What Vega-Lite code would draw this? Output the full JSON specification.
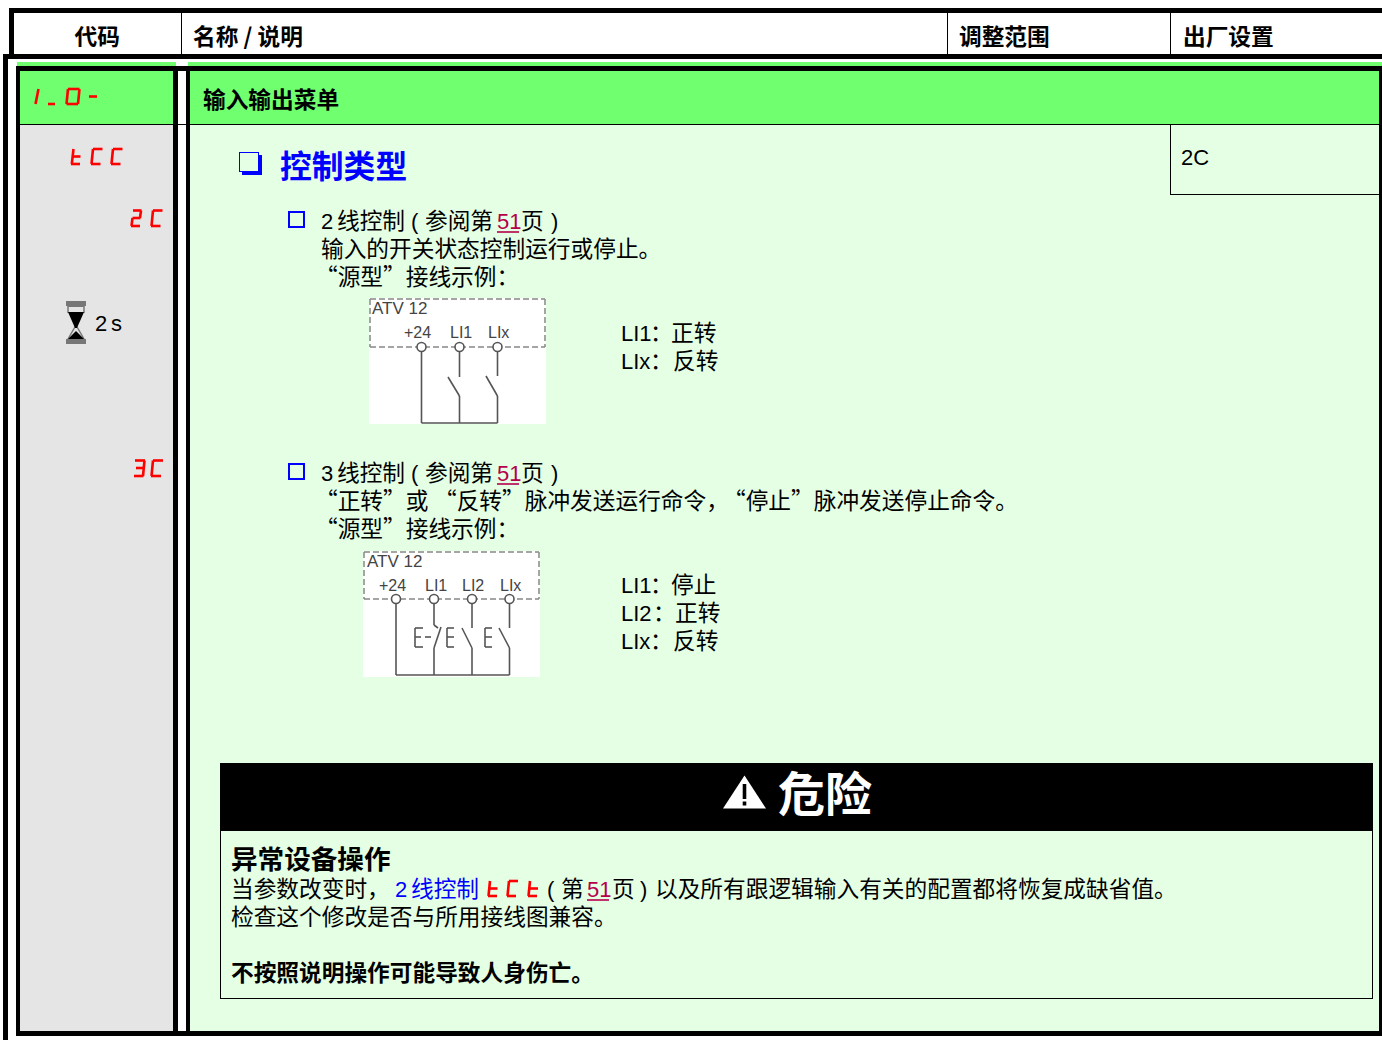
{"$schema":"https://vega.github.io/schema/vega-lite/v6.json","width":1382,"height":1040,"autosize":{"type":"fit","contains":"padding"},"padding":0,"background":"white","view":{"stroke":null},
"config":{"text":{"font":"Noto Sans CJK SC","align":"left","baseline":"middle"}},
"encoding":{"x":{"field":"x","type":"quantitative","scale":{"domain":[0,1382],"nice":false,"zero":false},"axis":null},"y":{"field":"y","type":"quantitative","scale":{"domain":[1040,0],"nice":false,"zero":false},"axis":null}},
"layer":[
{"mark":{"type":"rect"},"data":{"values":[
{"x":9,"x2":1382,"y":8,"y2":13,"k":"border"},{"x":9,"x2":14,"y":8,"y2":59,"k":"border"},{"x":3,"x2":1382,"y":54,"y2":59,"k":"border"},{"x":3,"x2":8,"y":54,"y2":1040,"k":"border"},
{"x":181,"x2":182,"y":13,"y2":54,"k":"border"},{"x":947,"x2":948,"y":13,"y2":54,"k":"border"},{"x":1170,"x2":1171,"y":13,"y2":54,"k":"border"},
{"x":17,"x2":176,"y":62,"y2":66,"k":"header"},{"x":188,"x2":1382,"y":62,"y2":66,"k":"header"},
{"x":20,"x2":173,"y":71,"y2":124,"k":"header"},{"x":190,"x2":1379,"y":71,"y2":124,"k":"header"},
{"x":20,"x2":173,"y":125,"y2":1031,"k":"code"},{"x":190,"x2":1379,"y":125,"y2":1031,"k":"pale"},
{"x":16,"x2":1382,"y":66,"y2":71,"k":"border"},{"x":16,"x2":20,"y":66,"y2":1036,"k":"border"},{"x":173,"x2":178,"y":71,"y2":1031,"k":"border"},{"x":186,"x2":190,"y":71,"y2":1031,"k":"border"},{"x":1379,"x2":1382,"y":66,"y2":1036,"k":"border"},{"x":16,"x2":1382,"y":1031,"y2":1036,"k":"border"},
{"x":20,"x2":1379,"y":124,"y2":125,"k":"border"},{"x":1170,"x2":1171,"y":125,"y2":195,"k":"border"},{"x":1170,"x2":1379,"y":194,"y2":195,"k":"border"},
{"x":220,"x2":1373,"y":763,"y2":831,"k":"border"},{"x":220,"x2":221,"y":831,"y2":999,"k":"border"},{"x":220,"x2":1373,"y":998,"y2":999,"k":"border"},{"x":1372,"x2":1373,"y":831,"y2":999,"k":"border"},
{"x":242,"x2":262,"y":155,"y2":175,"k":"accent"},{"x":239,"x2":259,"y":152,"y2":172,"k":"accent"},{"x":240,"x2":258,"y":153,"y2":171,"k":"pale"},
{"x":288,"x2":305,"y":211,"y2":228,"k":"accent"},{"x":290,"x2":303,"y":213,"y2":226,"k":"pale"},
{"x":288,"x2":305,"y":463,"y2":480,"k":"accent"},{"x":290,"x2":303,"y":465,"y2":478,"k":"pale"},
{"x":369,"x2":546,"y":298,"y2":424,"k":"paper"},{"x":363,"x2":540,"y":551,"y2":677,"k":"paper"},
{"x":66,"x2":86,"y":301,"y2":306,"k":"sand"},{"x":68,"x2":84,"y":306,"y2":307,"k":"sand"},{"x":66,"x2":86,"y":339,"y2":344,"k":"sand"}
]},"encoding":{"x2":{"field":"x2"},"y2":{"field":"y2"},"color":{"field":"k","type":"nominal","legend":null,"scale":{"domain":["border","header","code","pale","accent","paper","sand"],"range":["#000000","#6fff6f","#e5e5e5","#e5ffe5","#0000ff","#ffffff","#777777"]}}}},
{"mark":{"type":"rule","stroke":"#555555","strokeWidth":1.6},"data":{"values":[
{"x":421.5,"y":351,"x2":421.5,"y2":423},{"x":459.5,"y":351,"x2":459.5,"y2":377},{"x":497.5,"y":351,"x2":497.5,"y2":376},{"x":448,"y":377,"x2":459.5,"y2":396},{"x":459.5,"y":396,"x2":459.5,"y2":423},{"x":486,"y":376,"x2":497.5,"y2":396},{"x":497.5,"y":396,"x2":497.5,"y2":423},{"x":421.5,"y":423,"x2":497.5,"y2":423},
{"x":396,"y":603,"x2":396,"y2":675},{"x":434,"y":603,"x2":434,"y2":625},{"x":434,"y":625,"x2":438,"y2":628},{"x":441,"y":627,"x2":434,"y2":648},{"x":434,"y":648,"x2":434,"y2":675},{"x":472,"y":603,"x2":472,"y2":628},{"x":462,"y":628,"x2":472,"y2":648},{"x":472,"y":648,"x2":472,"y2":675},{"x":509.5,"y":603,"x2":509.5,"y2":628},{"x":499,"y":628,"x2":509.5,"y2":648},{"x":509.5,"y":648,"x2":509.5,"y2":675},{"x":396,"y":675,"x2":509.5,"y2":675},
{"x":415,"y":628,"x2":415,"y2":647},{"x":415,"y":628,"x2":423,"y2":628},{"x":415,"y":647,"x2":423,"y2":647},{"x":415,"y":637,"x2":421,"y2":637},{"x":425,"y":637,"x2":431,"y2":637},
{"x":447,"y":628,"x2":447,"y2":647},{"x":447,"y":628,"x2":454,"y2":628},{"x":447,"y":647,"x2":454,"y2":647},{"x":447,"y":637,"x2":454,"y2":637},
{"x":485,"y":628,"x2":485,"y2":647},{"x":485,"y":628,"x2":492,"y2":628},{"x":485,"y":647,"x2":492,"y2":647},{"x":485,"y":637,"x2":492,"y2":637}
]},"encoding":{"x2":{"field":"x2"},"y2":{"field":"y2"}}},
{"mark":{"type":"rule","stroke":"#888888","strokeWidth":1.5,"strokeDash":[6,3]},"data":{"values":[
{"x":370,"y":299,"x2":545,"y2":299},{"x":370,"y":347,"x2":545,"y2":347},{"x":370,"y":299,"x2":370,"y2":347},{"x":545,"y":299,"x2":545,"y2":347},
{"x":364,"y":552,"x2":539,"y2":552},{"x":364,"y":599,"x2":539,"y2":599},{"x":364,"y":552,"x2":364,"y2":599},{"x":539,"y":552,"x2":539,"y2":599}
]},"encoding":{"x2":{"field":"x2"},"y2":{"field":"y2"}}},
{"mark":{"type":"point","shape":"circle","filled":true,"fill":"#ffffff","stroke":"#555555","strokeWidth":1.6,"size":81,"opacity":1},"data":{"values":[{"x":421.5,"y":347},{"x":459.5,"y":347},{"x":497.5,"y":347},{"x":396,"y":599},{"x":434,"y":599},{"x":472,"y":599},{"x":509.5,"y":599}]}},
{"mark":{"type":"rule","stroke":"#ff0000","strokeWidth":2.6},"data":{"values":[
{"x":38.5,"y":89,"x2":35.5,"y2":104},{"x":48,"y":104,"x2":55,"y2":104},
{"x":68,"y":89,"x2":79.5,"y2":89},{"x":68,"y":89,"x2":66.5,"y2":104},{"x":79.5,"y":89,"x2":78,"y2":104},{"x":66.5,"y":104,"x2":78,"y2":104},{"x":89,"y":96.5,"x2":97,"y2":96.5},
{"x":73.5,"y":149,"x2":71.8,"y2":164},{"x":72.5,"y":156.5,"x2":80.5,"y2":156.5},{"x":71,"y":164,"x2":80,"y2":164},
{"x":93,"y":149,"x2":102.5,"y2":149},{"x":93,"y":149,"x2":91.5,"y2":164},{"x":91,"y":164,"x2":100.5,"y2":164},
{"x":113,"y":149,"x2":122.5,"y2":149},{"x":113,"y":149,"x2":111.5,"y2":164},{"x":111,"y":164,"x2":120.5,"y2":164},
{"x":133,"y":210.5,"x2":141.5,"y2":210.5},{"x":141,"y":210.5,"x2":140,"y2":218},{"x":132.5,"y":218,"x2":140.5,"y2":218},{"x":132.5,"y":218,"x2":131.5,"y2":226},{"x":131,"y":226,"x2":140,"y2":226},
{"x":153,"y":210.5,"x2":162.5,"y2":210.5},{"x":153,"y":210.5,"x2":151.5,"y2":226},{"x":151,"y":226,"x2":160.5,"y2":226},
{"x":135,"y":460.5,"x2":145,"y2":460.5},{"x":144.5,"y":460.5,"x2":143,"y2":476},{"x":136,"y":468,"x2":144,"y2":468},{"x":134,"y":476,"x2":143.5,"y2":476},
{"x":153,"y":460.5,"x2":163,"y2":460.5},{"x":153,"y":460.5,"x2":151.5,"y2":476},{"x":151,"y":476,"x2":161,"y2":476},
{"x":490,"y":881,"x2":488.5,"y2":896},{"x":489,"y":888.5,"x2":497.5,"y2":888.5},{"x":488,"y":896,"x2":497,"y2":896},
{"x":509,"y":881,"x2":518,"y2":881},{"x":509,"y":881,"x2":507.5,"y2":896},{"x":507,"y":896,"x2":516,"y2":896},
{"x":530,"y":881,"x2":528.5,"y2":896},{"x":529,"y":888.5,"x2":538,"y2":888.5},{"x":528,"y":896,"x2":537,"y2":896}
]},"encoding":{"x2":{"field":"x2"},"y2":{"field":"y2"}}},
{"mark":{"type":"rule","stroke":"#b5004c","strokeWidth":1.6},"data":{"values":[{"x":497,"y":232,"x2":519,"y2":232},{"x":497,"y":484,"x2":519,"y2":484},{"x":587,"y":900,"x2":609,"y2":900}]},"encoding":{"x2":{"field":"x2"},"y2":{"field":"y2"}}},
{"mark":{"type":"rule","stroke":"#777777","strokeWidth":1.5},"data":{"values":[{"x":68,"y":306,"x2":68,"y2":313},{"x":84,"y":306,"x2":84,"y2":313},{"x":75.5,"y":326,"x2":68,"y2":339},{"x":76.5,"y":326,"x2":84,"y2":339}]},"encoding":{"x2":{"field":"x2"},"y2":{"field":"y2"}}},
{"mark":{"type":"point","shape":"M-1,-1L1,-1L0.12,1L-0.12,1Z","filled":true,"color":"#000000","size":256,"opacity":1},"data":{"values":[{"x":76,"y":320}]}},
{"mark":{"type":"point","shape":"M-1,1L1,1L0,0Z","filled":true,"color":"#000000","size":256,"opacity":1},"data":{"values":[{"x":76,"y":331}]}},
{"mark":{"type":"point","shape":"M0,-0.77L1,0.77L-1,0.77Z","filled":true,"color":"#ffffff","size":1849,"opacity":1},"data":{"values":[{"x":744.5,"y":792}]}},
{"mark":{"type":"rule","stroke":"#000000","strokeWidth":3.6},"data":{"values":[{"x":744.5,"y":784,"x2":744.5,"y2":799},{"x":744.5,"y":801.5,"x2":744.5,"y2":805.5}]},"encoding":{"x2":{"field":"x2"},"y2":{"field":"y2"}}},
{"mark":{"type":"text","fontSize":22.7,"fontWeight":700,"color":"#000000"},"data":{"values":[
{"x":74.5,"y":38,"t":"代码"},{"x":193,"y":38,"t":"名称 / 说明"},{"x":959,"y":38,"t":"调整范围"},{"x":1183,"y":38,"t":"出厂设置"},{"x":203,"y":101,"t":"输入输出菜单"},{"x":231,"y":974,"t":"不按照说明操作可能导致人身伤亡。"}
]},"encoding":{"text":{"field":"t"}}},
{"mark":{"type":"text","fontSize":26.6,"fontWeight":700,"color":"#000000"},"data":{"values":[{"x":231,"y":861,"t":"异常设备操作"}]},"encoding":{"text":{"field":"t"}}},
{"mark":{"type":"text","fontSize":31.8,"fontWeight":700,"color":"#0000ff"},"data":{"values":[{"x":280,"y":168,"t":"控制类型"}]},"encoding":{"text":{"field":"t"}}},
{"mark":{"type":"text","fontSize":47,"fontWeight":700,"color":"#ffffff"},"data":{"values":[{"x":778,"y":797,"t":"危险"}]},"encoding":{"text":{"field":"t"}}},
{"mark":{"type":"text","fontSize":22.7,"color":"#000000"},"data":{"values":[
{"x":337,"y":222,"t":"线控制"},{"x":425,"y":222,"t":"参阅第"},{"x":521,"y":222,"t":"页"},
{"x":321,"y":250,"t":"输入的开关状态控制运行或停止。"},{"x":315,"y":278,"t":"“源型”接线示例："},
{"x":337,"y":474,"t":"线控制"},{"x":425,"y":474,"t":"参阅第"},{"x":521,"y":474,"t":"页"},
{"x":315,"y":502,"t":"“正转”或"},{"x":434,"y":502,"t":"“反转”脉冲发送运行命令，"},{"x":723,"y":502,"t":"“停止”脉冲发送停止命令。"},{"x":315,"y":530,"t":"“源型”接线示例："},
{"x":650,"y":334,"t":"："},{"x":671,"y":334,"t":"正转"},{"x":650,"y":362,"t":"："},{"x":673,"y":362,"t":"反转"},
{"x":650,"y":586,"t":"："},{"x":671,"y":586,"t":"停止"},{"x":653,"y":614,"t":"："},{"x":675,"y":614,"t":"正转"},{"x":650,"y":642,"t":"："},{"x":673,"y":642,"t":"反转"},
{"x":231,"y":890,"t":"当参数改变时，"},{"x":561,"y":890,"t":"第"},{"x":612,"y":890,"t":"页"},{"x":655,"y":890,"t":"以及所有跟逻辑输入有关的配置都将恢复成缺省值。"},{"x":231,"y":918,"t":"检查这个修改是否与所用接线图兼容。"}
]},"encoding":{"text":{"field":"t"}}},
{"mark":{"type":"text","fontSize":22,"font":"Liberation Sans","color":"#000000"},"data":{"values":[
{"x":321,"y":222,"t":"2"},{"x":411,"y":222,"t":"("},{"x":551,"y":222,"t":")"},{"x":321,"y":474,"t":"3"},{"x":411,"y":474,"t":"("},{"x":551,"y":474,"t":")"},
{"x":621,"y":334,"t":"LI1"},{"x":621,"y":362,"t":"LIx"},{"x":621,"y":586,"t":"LI1"},{"x":621,"y":614,"t":"LI2"},{"x":621,"y":642,"t":"LIx"},
{"x":95,"y":324,"t":"2"},{"x":111,"y":324,"t":"s"},{"x":1181,"y":158,"t":"2C"},{"x":547,"y":890,"t":"("},{"x":640,"y":890,"t":")"}
]},"encoding":{"text":{"field":"t"}}},
{"mark":{"type":"text","fontSize":22,"font":"Liberation Sans","color":"#b5004c"},"data":{"values":[{"x":497,"y":222,"t":"51"},{"x":497,"y":474,"t":"51"},{"x":587,"y":890,"t":"51"}]},"encoding":{"text":{"field":"t"}}},
{"mark":{"type":"text","fontSize":22,"font":"Liberation Sans","color":"#0000ff"},"data":{"values":[{"x":395,"y":890,"t":"2"}]},"encoding":{"text":{"field":"t"}}},
{"mark":{"type":"text","fontSize":22.7,"color":"#0000ff"},"data":{"values":[{"x":411,"y":890,"t":"线控制"}]},"encoding":{"text":{"field":"t"}}},
{"mark":{"type":"text","fontSize":17,"font":"Liberation Sans","color":"#444444"},"data":{"values":[{"x":372,"y":309,"t":"ATV 12"},{"x":367,"y":562,"t":"ATV 12"}]},"encoding":{"text":{"field":"t"}}},
{"mark":{"type":"text","fontSize":16,"font":"Liberation Sans","color":"#444444"},"data":{"values":[{"x":404,"y":333,"t":"+24"},{"x":450,"y":333,"t":"LI1"},{"x":488,"y":333,"t":"LIx"},{"x":379,"y":586,"t":"+24"},{"x":425,"y":586,"t":"LI1"},{"x":462,"y":586,"t":"LI2"},{"x":500,"y":586,"t":"LIx"}]},"encoding":{"text":{"field":"t"}}}
]}
